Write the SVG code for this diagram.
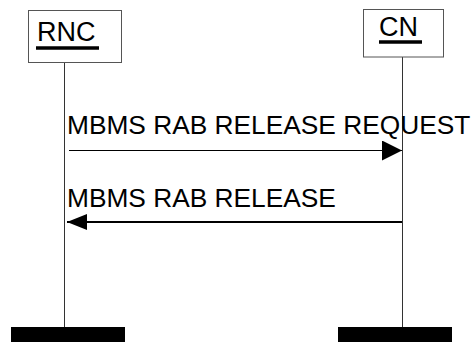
<svg xmlns="http://www.w3.org/2000/svg" width="472" height="342" viewBox="0 0 472 342">
<style>
.box{fill:#fff;stroke:#555;stroke-width:1}
.lbl{font-family:"Liberation Sans",Arial,sans-serif;font-size:26.3px;fill:#000}
.nm{font-family:"Liberation Sans",Arial,sans-serif;font-size:27px;fill:#000}
.life{stroke:#333;stroke-width:1}
.bar{fill:#000}
.ul{stroke:#000;stroke-width:3.5}
</style>
<defs>
<marker id="ah" viewBox="0 0 20 20" refX="20" refY="10" markerWidth="20" markerHeight="20" markerUnits="userSpaceOnUse" orient="auto">
<path d="M0,0 L20,10 L0,20 Z" fill="#000"/>
</marker>
<marker id="ah2" viewBox="0 0 20 16" refX="20" refY="8" markerWidth="20" markerHeight="16" markerUnits="userSpaceOnUse" orient="auto">
<path d="M0,0 L20,8 L0,16 Z" fill="#000"/>
</marker>
</defs>
<g id="rnc">
<line class="life" x1="64.5" y1="62" x2="64.5" y2="327"/>
<rect class="box" x="28.5" y="10.5" width="93" height="52"/>
<text class="nm" x="37" y="41">RNC</text>
<line class="ul" x1="36" y1="48" x2="99" y2="48"/>
<rect class="bar" x="11" y="327" width="114" height="15"/>
</g>
<g id="cn">
<line class="life" x1="402.5" y1="57" x2="402.5" y2="327"/>
<rect class="box" x="363.5" y="9.5" width="80" height="47.5"/>
<text class="nm" x="379" y="36">CN</text>
<line class="ul" x1="379" y1="42" x2="422" y2="42"/>
<rect class="bar" x="338" y="327" width="114" height="15"/>
</g>
<g id="connectors">
<line x1="69" y1="150.5" x2="402" y2="150.5" stroke="#000" stroke-width="1" marker-end="url(#ah)"/>
<text class="lbl" x="67" y="134">MBMS RAB RELEASE REQUEST</text>
<line x1="402" y1="222" x2="67" y2="222" stroke="#000" stroke-width="2" marker-end="url(#ah2)"/>
<text class="lbl" x="67" y="207">MBMS RAB RELEASE</text>
</g>
</svg>
